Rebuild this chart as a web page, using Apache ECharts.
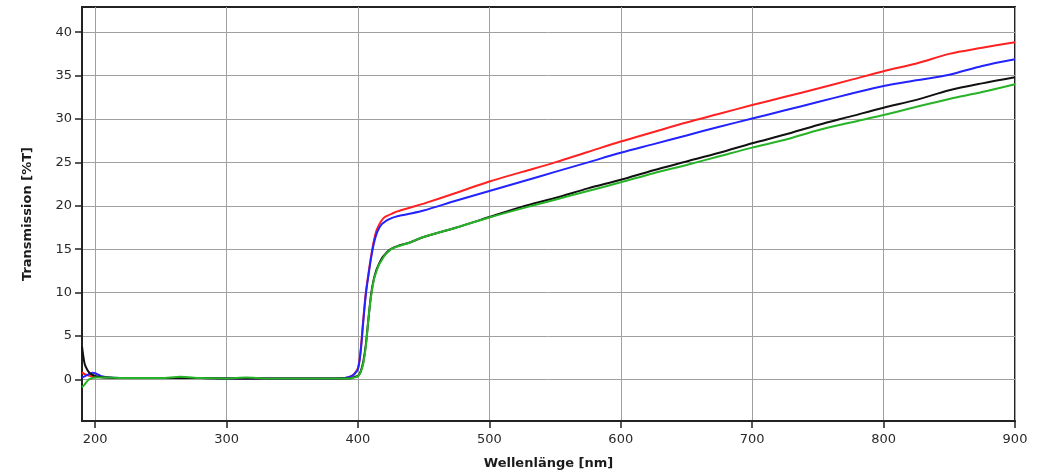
<!DOCTYPE html>
<html>
<head>
<meta charset="utf-8">
<script src="https://cdn.jsdelivr.net/npm/echarts@6/dist/echarts.min.js"></script>
<style>
  html, body { margin: 0; padding: 0; background: #ffffff; }
  #chart { width: 1039px; height: 473px; }
</style>
</head>
<body>
<div id="chart"></div>
<script>
// Wavelength sample points (nm)
var wavelengths = [190, 192, 194, 196, 198, 200, 203, 205, 210, 220, 250, 265, 280, 300, 315, 330, 360, 380, 390, 394, 397, 400, 402, 404, 406, 408, 410, 412, 414, 416, 418, 420, 423, 426, 430, 440, 450, 475, 500, 525, 550, 575, 600, 625, 650, 675, 700, 725, 750, 775, 800, 825, 850, 875, 900];

// Transmission (%T) per sample
var redT = [0.8, 0.6, 0.5, 0.4, 0.35, 0.3, 0.28, 0.25, 0.2, 0.15, 0.15, 0.15, 0.15, 0.1, 0.12, 0.1, 0.1, 0.1, 0.15, 0.3, 0.6, 1.3, 3.3, 6.8, 10.0, 12.2, 14.2, 15.9, 17.1, 17.8, 18.3, 18.65, 18.9, 19.1, 19.35, 19.8, 20.25, 21.5, 22.8, 23.9, 25.0, 26.2, 27.4, 28.5, 29.6, 30.6, 31.6, 32.55, 33.5, 34.5, 35.5, 36.4, 37.5, 38.2, 38.85];
var blueT = [0.2, 0.35, 0.5, 0.65, 0.75, 0.7, 0.5, 0.35, 0.2, 0.15, 0.15, 0.15, 0.15, 0.1, 0.12, 0.1, 0.1, 0.1, 0.15, 0.3, 0.55, 1.2, 3.1, 6.6, 9.8, 12.0, 14.0, 15.6, 16.7, 17.4, 17.85, 18.1, 18.4, 18.6, 18.8, 19.1, 19.45, 20.6, 21.7, 22.8, 23.9, 25.0, 26.1, 27.1, 28.1, 29.1, 30.05, 31.0, 31.95, 32.9, 33.8, 34.45, 35.1, 36.1, 36.87];
var blackT = [3.8, 1.8, 1.1, 0.7, 0.5, 0.4, 0.3, 0.25, 0.2, 0.15, 0.15, 0.15, 0.15, 0.1, 0.12, 0.1, 0.1, 0.1, 0.1, 0.1, 0.25, 0.4, 0.9, 2.0, 4.0, 7.0, 9.8, 11.5, 12.6, 13.3, 13.9, 14.3, 14.8, 15.1, 15.35, 15.8, 16.4, 17.5, 18.7, 19.9, 20.9, 22.0, 23.0, 24.1, 25.1, 26.1, 27.2, 28.2, 29.3, 30.3, 31.3, 32.2, 33.3, 34.1, 34.8];
var greenT = [-0.9, -0.6, -0.2, 0.05, 0.15, 0.2, 0.2, 0.2, 0.2, 0.15, 0.15, 0.3, 0.15, 0.1, 0.2, 0.1, 0.1, 0.1, 0.1, 0.1, 0.2, 0.35, 0.8, 1.8, 3.8, 7.0, 9.6, 11.4, 12.4, 13.2, 13.7, 14.2, 14.7, 15.05, 15.3, 15.8, 16.4, 17.5, 18.65, 19.7, 20.7, 21.7, 22.7, 23.75, 24.7, 25.7, 26.7, 27.6, 28.7, 29.6, 30.45, 31.4, 32.3, 33.1, 34.0];

// Axis tick positions
var xTicks = [200, 300, 400, 500, 600, 700, 800, 900];
var yTicks = [0, 5, 10, 15, 20, 25, 30, 35, 40];

function pairs(vals) {
  return wavelengths.map(function (w, i) { return [w, vals[i]]; });
}

var fontFamily = '"DejaVu Sans", Verdana, sans-serif';

function lineSeries(name, vals, color) {
  return {
    name: name,
    type: 'line',
    data: pairs(vals),
    showSymbol: false,
    smooth: 0.3,
    lineStyle: { color: color, width: 2 },
    itemStyle: { color: color },
    clip: true,
    animation: false
  };
}

var chart = echarts.init(document.getElementById('chart'), null, { renderer: 'canvas' });
chart.setOption({
  backgroundColor: '#ffffff',
  animation: false,
  grid: {
    left: 82, right: 24, top: 7, bottom: 52,
    outerBoundsMode: 'none',
    containLabel: false,
    show: true, borderColor: '#222', borderWidth: 2
  },
  xAxis: {
    type: 'value',
    min: 190,
    max: 900,
    name: 'Wellenlänge [nm]',
    nameLocation: 'middle',
    nameGap: 36,
    nameTextStyle: { fontFamily: fontFamily, fontWeight: 'bold', fontSize: 13, color: '#1a1a1a' },
    axisLine: { show: true, onZero: false, lineStyle: { color: '#222', width: 2 } },
    axisTick: { show: true, customValues: xTicks, length: 7, lineStyle: { color: '#222', width: 1.5 } },
    axisLabel: { customValues: xTicks, fontFamily: fontFamily, fontSize: 13, color: '#2a2a2a', margin: 12 },
    splitLine: { show: true, lineStyle: { color: '#a0a0a0', width: 1 } }
  },
  yAxis: {
    type: 'value',
    min: -4.8,
    max: 42.9,
    name: 'Transmission [%T]',
    nameLocation: 'middle',
    nameGap: 48,
    nameTextStyle: { fontFamily: fontFamily, fontWeight: 'bold', fontSize: 13, color: '#1a1a1a' },
    axisLine: { show: true, onZero: false, lineStyle: { color: '#222', width: 2 } },
    axisTick: { show: true, customValues: yTicks, length: 7, lineStyle: { color: '#222', width: 1.5 } },
    axisLabel: { customValues: yTicks, fontFamily: fontFamily, fontSize: 13, color: '#2a2a2a', margin: 10 },
    splitLine: { show: true, lineStyle: { color: '#a0a0a0', width: 1 } }
  },
  series: [
    lineSeries('Rot', redT, '#ff2222'),
    lineSeries('Blau', blueT, '#2323ff'),
    lineSeries('Schwarz', blackT, '#111111'),
    lineSeries('Grün', greenT, '#27b327')
  ]
});
</script>
</body>
</html>
